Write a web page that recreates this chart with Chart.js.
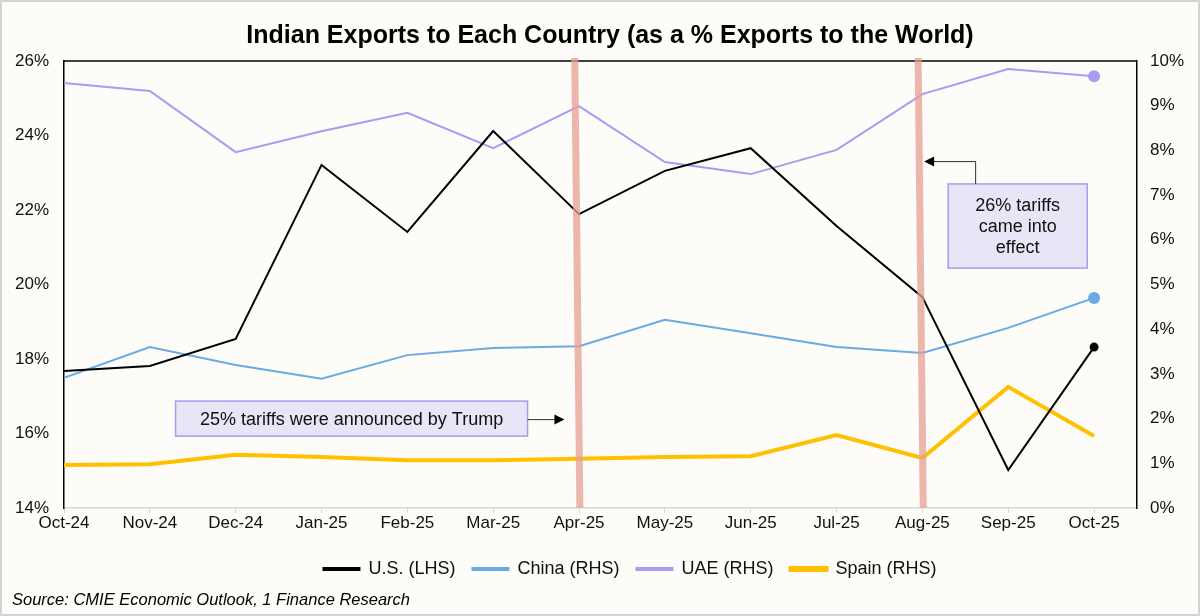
<!DOCTYPE html>
<html>
<head>
<meta charset="utf-8">
<script src="https://cdn.jsdelivr.net/npm/chart.js@4.4.1/dist/chart.umd.min.js"></script>
<style>
  html, body { margin: 0; padding: 0; background: #fff; }
  #wrap { width: 1200px; height: 616px; box-sizing: border-box; border: 2px solid #d4d4d4; background: #fdfcf8; }
  canvas { display: block; }
</style>
</head>
<body>
<div id="wrap"><canvas id="chart" width="1196" height="612"></canvas></div>
<script>
const months = ['Oct-24', 'Nov-24', 'Dec-24', 'Jan-25', 'Feb-25', 'Mar-25', 'Apr-25',
    'May-25', 'Jun-25', 'Jul-25', 'Aug-25', 'Sep-25', 'Oct-25'];

// U.S. on the left axis, the rest on the right axis (% of exports to the world)
const usShare = [17.68, 17.81, 18.54, 23.21, 21.41, 24.12, 21.89, 23.05, 23.66, 21.57, 19.66, 15.02, 18.32];
const chinaShare = [2.91, 3.60, 3.20, 2.89, 3.42, 3.58, 3.62, 4.21, 3.91, 3.60, 3.47, 4.03, 4.70];
const uaeShare = [9.51, 9.33, 7.96, 8.43, 8.84, 8.05, 8.99, 7.74, 7.47, 8.01, 9.26, 9.82, 9.66];
const spainShare = [0.96, 0.98, 1.19, 1.14, 1.07, 1.07, 1.10, 1.14, 1.16, 1.63, 1.12, 2.71, 1.61];

const leftTicks = [14, 16, 18, 20, 22, 24, 26];
const rightTicks = [0, 1, 2, 3, 4, 5, 6, 7, 8, 9, 10];

// tariff events (category index)
const tariffMonths = [6, 10];

const FONT = "'Liberation Sans', Arial, sans-serif";

function points(values) {
    return values.map((v, i) => ({ x: i, y: v }))
}

// only the last point gets a marker
function lastOnly(r) {
    return months.map((m, i) => i == months.length - 1 ? r : 0)
}

const extras = {
    id: 'extras',
    // legend in the original sits a bit right of centre
    afterLayout(chart) {
        chart.legend.left += 30
        chart.legend.right += 30
    },
    afterDatasetsDraw(chart) {
        const ctx = chart.ctx
        const a = chart.chartArea
        const x = chart.scales.x
        const y = chart.scales.y

        ctx.save()
        // top frame line
        ctx.strokeStyle = '#000'
        ctx.lineWidth = 1.5
        ctx.beginPath()
        ctx.moveTo(a.left, a.top)
        ctx.lineTo(a.right, a.top)
        ctx.stroke()

        // tariff bars
        ctx.strokeStyle = 'rgba(228, 160, 144, 0.75)'
        ctx.lineWidth = 7
        tariffMonths.forEach((m) => {
            ctx.beginPath()
            ctx.moveTo(x.getPixelForValue(m - 0.05), a.top - 3)
            ctx.lineTo(x.getPixelForValue(m + 0.01), a.bottom)
            ctx.stroke()
        })

        // text boxes
        ctx.fillStyle = '#e8e5f6'
        ctx.strokeStyle = '#a99bef'
        ctx.lineWidth = 1.5

        const b1 = { l: x.getPixelForValue(1.30), r: x.getPixelForValue(5.40), t: y.getPixelForValue(16.87), b: y.getPixelForValue(15.93) }
        ctx.fillRect(b1.l, b1.t, b1.r - b1.l, b1.b - b1.t)
        ctx.strokeRect(b1.l, b1.t, b1.r - b1.l, b1.b - b1.t)

        const b2 = { l: x.getPixelForValue(10.3), r: x.getPixelForValue(11.92), t: y.getPixelForValue(22.70), b: y.getPixelForValue(20.44) }
        ctx.fillRect(b2.l, b2.t, b2.r - b2.l, b2.b - b2.t)
        ctx.strokeRect(b2.l, b2.t, b2.r - b2.l, b2.b - b2.t)

        ctx.fillStyle = '#111'
        ctx.font = '18px ' + FONT
        ctx.textAlign = 'center'
        ctx.textBaseline = 'middle'
        ctx.fillText('25% tariffs were announced by Trump', (b1.l + b1.r) / 2, (b1.t + b1.b) / 2 + 1)
        const cx = (b2.l + b2.r) / 2
        const cy = (b2.t + b2.b) / 2 + 1
        ctx.fillText('26% tariffs', cx, cy - 21)
        ctx.fillText('came into', cx, cy)
        ctx.fillText('effect', cx, cy + 21)

        // arrows
        ctx.strokeStyle = '#333'
        ctx.fillStyle = '#000'
        ctx.lineWidth = 1
        const ay = (b1.t + b1.b) / 2 + 1
        const ax = x.getPixelForValue(5.83)
        ctx.beginPath()
        ctx.moveTo(b1.r, ay)
        ctx.lineTo(ax - 8, ay)
        ctx.stroke()
        ctx.beginPath()
        ctx.moveTo(ax, ay)
        ctx.lineTo(ax - 10, ay - 5)
        ctx.lineTo(ax - 10, ay + 5)
        ctx.closePath()
        ctx.fill()

        const sx = x.getPixelForValue(10.62)
        const ty = y.getPixelForValue(23.3)
        const hx = x.getPixelForValue(10.02)
        ctx.beginPath()
        ctx.moveTo(sx, b2.t)
        ctx.lineTo(sx, ty)
        ctx.lineTo(hx + 8, ty)
        ctx.stroke()
        ctx.beginPath()
        ctx.moveTo(hx, ty)
        ctx.lineTo(hx + 10, ty - 5)
        ctx.lineTo(hx + 10, ty + 5)
        ctx.closePath()
        ctx.fill()

        // title and source
        ctx.fillStyle = '#000'
        ctx.font = 'bold 25px ' + FONT
        ctx.fillText('Indian Exports to Each Country (as a % Exports to the World)', 608, 34)
        ctx.font = 'italic 16.5px ' + FONT
        ctx.textAlign = 'left'
        ctx.fillText('Source: CMIE Economic Outlook, 1 Finance Research', 10, 598)
        ctx.restore()
    }
}

new Chart(document.getElementById('chart'), {
    type: 'line',
    data: {
        datasets: [
            {
                label: 'U.S. (LHS)', data: points(usShare), yAxisID: 'y',
                borderColor: '#000', backgroundColor: '#000', borderWidth: 2,
                pointRadius: lastOnly(4.5), pointBorderWidth: 0
            },
            {
                label: 'China (RHS)', data: points(chinaShare), yAxisID: 'y2',
                borderColor: '#6aaae4', backgroundColor: '#6aaae4', borderWidth: 2,
                pointRadius: lastOnly(6), pointBorderWidth: 0
            },
            {
                label: 'UAE (RHS)', data: points(uaeShare), yAxisID: 'y2',
                borderColor: '#aa9af2', backgroundColor: '#aa9af2', borderWidth: 2,
                pointRadius: lastOnly(6), pointBorderWidth: 0
            },
            {
                label: 'Spain (RHS)', data: points(spainShare), yAxisID: 'y2',
                borderColor: '#ffc000', backgroundColor: '#ffc000', borderWidth: 4,
                pointRadius: 0
            }
        ]
    },
    options: {
        responsive: false,
        animation: false,
        layout: { padding: { top: 59, bottom: 26, left: 0, right: 0 } },
        plugins: {
            legend: {
                position: 'bottom',
                labels: {
                    font: { family: FONT, size: 18 },
                    color: '#111',
                    boxWidth: 36,
                    boxHeight: 2,
                    padding: 17
                }
            },
            tooltip: { enabled: false }
        },
        scales: {
            x: {
                type: 'linear',
                min: 0,
                max: 12.5,
                afterFit(scale) { scale.height = 35 },
                afterBuildTicks(scale) { scale.ticks = months.map((m, i) => ({ value: i })) },
                ticks: {
                    callback: (v) => months[v],
                    font: { family: FONT, size: 17 },
                    color: '#111',
                    maxRotation: 0,
                    autoSkip: false,
                    padding: 0
                },
                grid: { drawOnChartArea: false, color: '#d9d9d9', tickLength: 5 },
                border: { color: '#d9d9d9', width: 1.5 }
            },
            y: {
                position: 'left',
                min: 14,
                max: 26,
                afterFit(scale) { scale.width = 62 },
                afterBuildTicks(scale) { scale.ticks = leftTicks.map((v) => ({ value: v })) },
                ticks: {
                    callback: (v) => v + '%',
                    font: { family: FONT, size: 17 },
                    color: '#111',
                    padding: 7
                },
                grid: { display: false },
                border: { color: '#000', width: 1.5 }
            },
            y2: {
                position: 'right',
                min: 0,
                max: 10,
                afterFit(scale) { scale.width = 61 },
                afterBuildTicks(scale) { scale.ticks = rightTicks.map((v) => ({ value: v })) },
                ticks: {
                    callback: (v) => v + '%',
                    font: { family: FONT, size: 17 },
                    color: '#111',
                    padding: 5
                },
                grid: { display: false },
                border: { color: '#000', width: 1.5 }
            }
        }
    },
    plugins: [extras]
});
</script>
</body>
</html>
